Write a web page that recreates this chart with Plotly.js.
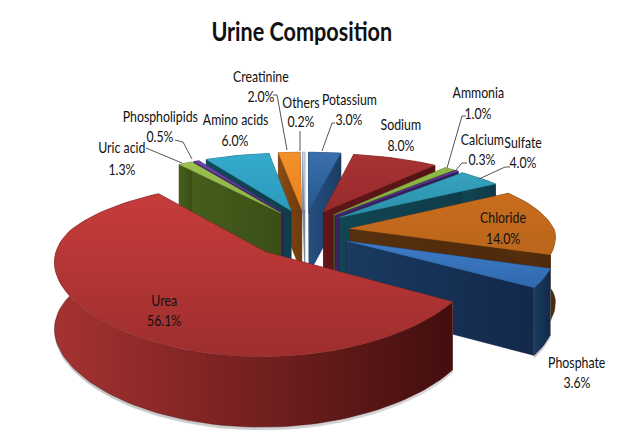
<!DOCTYPE html>
<html><head><meta charset="utf-8">
<script src="https://cdn.plot.ly/plotly-3.0.1.min.js"></script>
<style>html,body{margin:0;padding:0;background:#fff}</style></head>
<body><div id="chart" style="width:621px;height:437px"></div>
<script>
// Data, clockwise from 12 o'clock
const categories = ['Potassium','Sodium','Ammonia','Calcium','Sulfate','Chloride','Phosphate','Urea','Uric acid','Phospholipids','Amino acids','Creatinine','Others'];
const percents = [3.0,8.0,1.0,0.3,4.0,14.0,3.6,56.1,1.3,0.5,6.0,2.0,0.2];
const percentLabels = ['3.0%','8.0%','1.0%','0.3%','4.0%','14.0%','3.6%','56.1%','1.3%','0.5%','6.0%','2.0%','0.2%'];

// Styles
const topColorA = ['#3a70ae','#a83234','#93b94a','#6a40a2','#36a3bf','#c96c1c','#3f7cc8','#c63c3b','#9cc052','#6d43a8','#35abcb','#f2912a','#c9daf2'];
const topColorB = ['#26588f','#982a2c','#84a93e','#573290','#2a8fa8','#b9661c','#2f69ad','#9e2e2e','#8cb044','#5a3592','#2c9abc','#e98320','#b3c8e8'];
const wallColorA = ['#254f80','#5e1618','#495f1d','#3c2362','#114553','#57300e','#1a3a60','#a63232','#46601c','#3e2566','#114a5a','#8a4c14','#8b99b0'];
const wallColorB = ['#1c3d63','#541214','#3c5016','#301a52','#0e3a46','#4d280a','#12294a','#430e0e','#3a4f16','#321c56','#0e3e4c','#6e3a0e','#6f7c92'];
const pulls = [0.22,0.22,0.22,0.22,0.22,0.22,0.22,0.27,0.22,0.22,0.22,0.22,0.22];
const castsShadow = ['Phosphate','Urea'];

// Label placement (centre x, first line y, second line y)
const labelX = [349,401,478,482,523,503,577,164,122,160,235,261,301];
const labelY1 = [99,124,92,139,142,217,362,300,147,116,119,76,102];
const labelY2 = [119,145,113,159,162,238,382,320,169,136,140,96,121];
const leaderLines = [
  [[146,148],[182,163]],
  [[175,140],[183,142],[192,159]],
  [[273,95],[277,95],[287,150]],
  [[300,131],[300,151]],
  [[335,123],[332,123],[322,151]],
  [[466,116],[462,116],[447,168]],
  [[467,163],[462,163],[456,170]],
  [[510,167],[505,167],[479,179]]
];

// Projection of the tilted, perspective disc
const CX=305, CY=231, RX=205, RY=75.6, PERSP=0.188, DEPTH=65, PULL_Y=1.35;
function proj(wx,wy){
  const s=1/(1+PERSP*wy);
  return {x:CX+RX*wx*Math.pow(s,s<1?0.8:0.5),y:CY-RY*wy*s,h:DEPTH*Math.pow(s,0.3)};
}

const total = percents.reduce((a,b)=>a+b,0);
let cum=0;
const slices = percents.map((v,i)=>{
  const a0=cum/total*2*Math.PI; cum+=v; const a1=cum/total*2*Math.PI;
  return {i,a0,a1,mid:(a0+a1)/2};
});

function faceTrace(pts,colA,colB,extra){
  const xs=[],ys=[];
  pts.forEach(p=>{xs.push(p.x);ys.push(p.y);});
  for(let k=pts.length-1;k>=0;k--){xs.push(pts[k].x);ys.push(pts[k].y+pts[k].h+(extra||0));}
  xs.push(xs[0]);ys.push(ys[0]);
  return {type:'scatter',mode:'lines',x:xs,y:ys,fill:'toself',line:{width:0.4,color:colB},
    fillgradient:{type:'horizontal',colorscale:[[0,colA],[1,colB]]},hoverinfo:'skip',showlegend:false};
}
// a radial face is in front when the rest of the slice lies above its edge on screen
function isFront(apex,edge,other){
  const dx=edge.x-apex.x;
  if(Math.abs(dx)<1e-6) return false;
  return other.y < apex.y+(edge.y-apex.y)*(other.x-apex.x)/dx;
}

const traces=[];
slices.slice().sort((p,q)=>Math.cos(q.mid)-Math.cos(p.mid)).forEach(sl=>{
  const i=sl.i,e=pulls[i];
  const ox=e*Math.sin(sl.mid), oy=e*PULL_Y*Math.cos(sl.mid);
  const apex=proj(ox,oy);
  const n=Math.max(2,Math.ceil((sl.a1-sl.a0)/(Math.PI/90)));
  const rim=[];
  for(let k=0;k<=n;k++){const t=sl.a0+(sl.a1-sl.a0)*k/n;rim.push(proj(ox+Math.sin(t),oy+Math.cos(t)));}
  const first=rim[0],last=rim[rim.length-1];
  const wA=wallColorA[i],wB=wallColorB[i];
  const face0=[apex,first], face1=[apex,last];
  const f0=isFront(apex,first,last), f1=isFront(apex,last,first);
  if(!f0) traces.push(faceTrace(face0,wA,wB));
  if(!f1) traces.push(faceTrace(face1,wA,wB));
  if(f0) traces.push(faceTrace(face0,wA,wB));
  if(f1) traces.push(faceTrace(face1,wA,wB));
  if(castsShadow.includes(categories[i])) traces.push(faceTrace(rim,'#c4c4c4','#d8d8d8',3));
  traces.push(faceTrace(rim,wA,wB));
  const xs=[apex.x].concat(rim.map(p=>p.x),[apex.x]);
  const ys=[apex.y].concat(rim.map(p=>p.y),[apex.y]);
  traces.push({type:'scatter',mode:'lines',x:xs,y:ys,fill:'toself',line:{width:0.4,color:topColorB[i]},
    fillgradient:{type:'vertical',colorscale:[[0,topColorB[i]],[1,topColorA[i]]]},hoverinfo:'skip',showlegend:false});
});

leaderLines.forEach(l=>traces.push({type:'scatter',mode:'lines',x:l.map(p=>p[0]),y:l.map(p=>p[1]),
  line:{color:'#555555',width:1},hoverinfo:'skip',showlegend:false}));

const FONT='Lato,"Liberation Sans",sans-serif';
const annotations=[];
categories.forEach((c,i)=>{
  annotations.push({x:labelX[i],y:labelY1[i],xref:'x',yref:'y',text:c,showarrow:false,font:{family:FONT,size:14.5,color:'#111'}});
  annotations.push({x:labelX[i],y:labelY2[i],xref:'x',yref:'y',text:percentLabels[i],showarrow:false,font:{family:FONT,size:14.5,color:'#111'}});
});

Plotly.newPlot('chart',traces,{
  width:621,height:437,autosize:false,margin:{l:0,r:0,t:0,b:0},
  paper_bgcolor:'#fff',plot_bgcolor:'#fff',showlegend:false,
  title:{text:'<b>Urine Composition</b>',x:0.486,xanchor:'center',y:0.928,yanchor:'middle',font:{family:FONT,size:27,color:'#111'}},
  xaxis:{range:[0,621],visible:false,fixedrange:true},
  yaxis:{range:[437,0],visible:false,fixedrange:true},
  annotations
},{displayModeBar:false,staticPlot:true}).then(gd=>{
  // the reference's type is horizontally condensed
  const squeeze=(el,k)=>{
    const b=el.getBBox(), cx=b.x+b.width/2, prev=el.getAttribute('transform')||'';
    el.setAttribute('transform',prev+` translate(${cx},0) scale(${k},1) translate(${-cx},0)`);
  };
  gd.querySelectorAll('.annotation-text').forEach(t=>squeeze(t,0.85));
  gd.querySelectorAll('.gtitle').forEach(t=>squeeze(t,0.8));
});
</script></body></html>
